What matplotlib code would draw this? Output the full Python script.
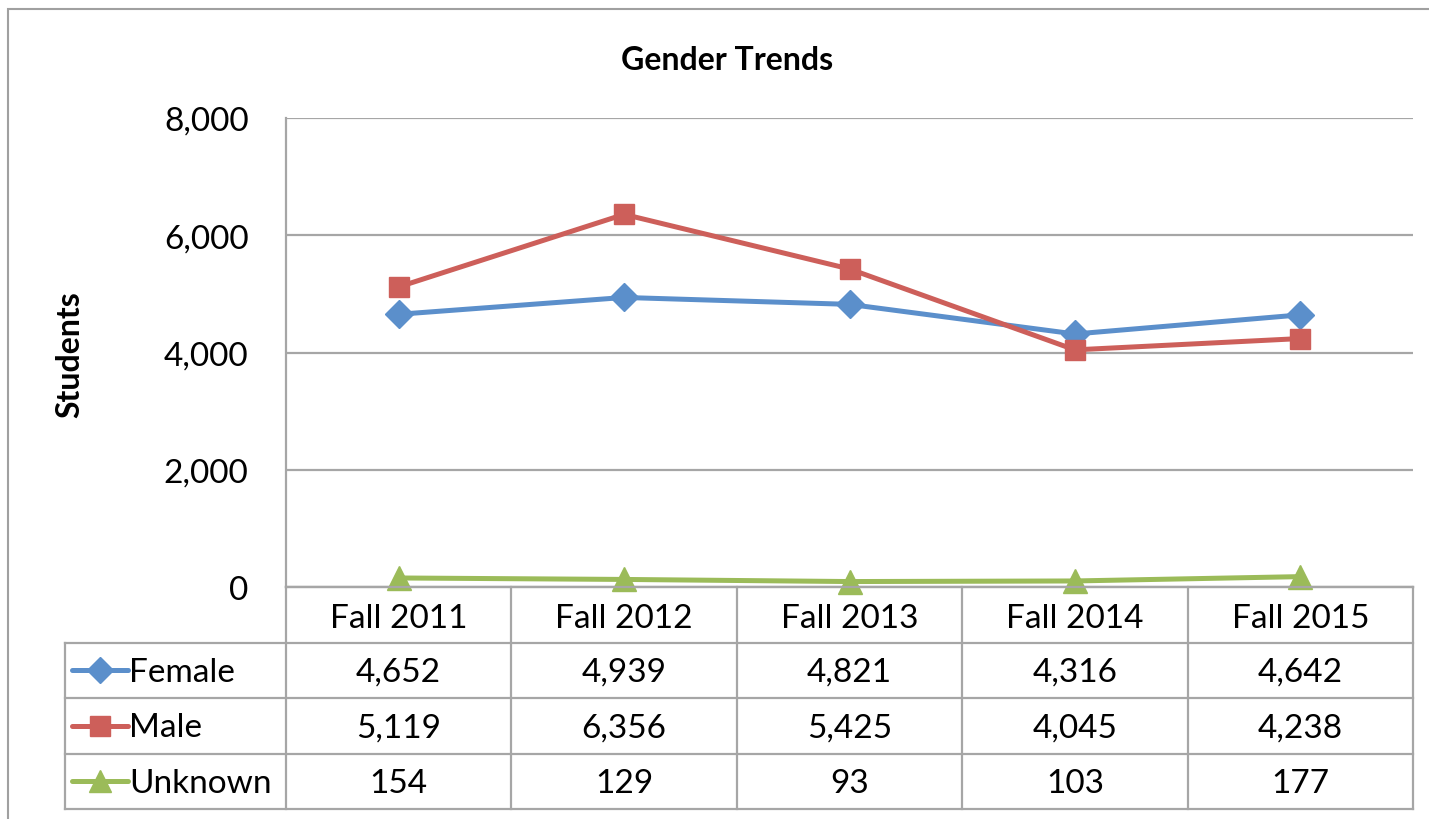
import matplotlib
matplotlib.use("Agg")
import matplotlib.pyplot as plt
from matplotlib.patches import Rectangle
from matplotlib.ticker import FuncFormatter

plt.rcParams['font.family'] = ['Lato', 'DejaVu Sans']

terms = ["Fall 2011", "Fall 2012", "Fall 2013", "Fall 2014", "Fall 2015"]
female = [4652, 4939, 4821, 4316, 4642]
male = [5119, 6356, 5425, 4045, 4238]
unknown = [154, 129, 93, 103, 177]

series = [
    ("Female", female, "#5B8FCB", "D", 14),
    ("Male", male, "#CD5F5A", "s", 15),
    ("Unknown", unknown, "#9BBB59", "^", 17),
]

W, H = 1429, 820
fig = plt.figure(figsize=(W / 100, H / 100), dpi=100)

def box(l, t, r, b):
    return [l / W, 1 - b / H, (r - l) / W, (b - t) / H]

grid_c = "#A6A6A6"
fs = 24

# outer chart border
fig.patches.append(Rectangle((8 / W, -0.1), 1.2, 1 - 10 / H + 0.1,
                             transform=fig.transFigure, fill=False,
                             edgecolor="#A0A0A0", linewidth=1.5))

ax = fig.add_axes(box(286, 119, 1413, 588))
x = range(len(terms))
for name, vals, col, mk, ms in series:
    ax.plot(x, vals, color=col, linewidth=3.6, marker=mk, markersize=ms,
            clip_on=False, zorder=3)
ax.set_xlim(-0.5, len(terms) - 0.5)
ax.set_ylim(0, 8000)
ax.set_yticks([0, 2000, 4000, 6000, 8000])
ax.yaxis.set_major_formatter(FuncFormatter(lambda v, p: f"{int(v):,}"))
ax.set_xticks([])
ax.tick_params(axis="y", length=0, pad=27, labelsize=fs)
ax.grid(axis="y", color=grid_c, linewidth=1.6)
ax.set_axisbelow(True)
for s in ["top", "right"]:
    ax.spines[s].set_visible(False)
ax.spines["left"].set_color(grid_c)
ax.spines["left"].set_linewidth(1.6)
ax.spines["bottom"].set_color(grid_c)
ax.spines["bottom"].set_linewidth(1.6)

# data table under the axis
colw = (1413 - 286) / len(terms)
lab_w = (286 - 65) / colw
tx = fig.add_axes(box(65, 588, 1413, 810))
tx.set_xlim(-0.5 - lab_w, len(terms) - 0.5)
tx.set_ylim(4, 0)
tx.axis("off")
lk = dict(color=grid_c, linewidth=1.6, clip_on=False)
left = -0.5 - lab_w
right = len(terms) - 0.5
tx.plot([-0.5, right], [0, 0], **lk)
for r in range(1, 5):
    tx.plot([left, right], [r, r], **lk)
tx.plot([left, left], [1, 4], **lk)
for c in range(len(terms) + 1):
    tx.plot([c - 0.5, c - 0.5], [0, 4], **lk)
for i, t in enumerate(terms):
    tx.text(i, 0.55, t, ha="center", va="center", fontsize=fs)
for r, (name, vals, col, mk, ms) in enumerate(series, start=1):
    tx.plot([left + 0.03, left + 0.28], [r + 0.5, r + 0.5], color=col,
            linewidth=3.6, solid_capstyle="round")
    tx.plot([left + 0.155], [r + 0.5], color=col, marker=mk, markersize=ms * 0.95)
    tx.text(left + 0.285, r + 0.53, name, ha="left", va="center", fontsize=fs)
    for i, v in enumerate(vals):
        tx.text(i, r + 0.53, f"{v:,}", ha="center", va="center", fontsize=fs)

fig.text(727 / W, 1 - 61 / H, "Gender Trends", ha="center", va="center",
         fontsize=23, fontweight="bold")
fig.text(70 / W, 1 - 355 / H, "Students", ha="center", va="center",
         rotation=90, fontsize=23, fontweight="bold")

fig.savefig("out.png", dpi=100)
